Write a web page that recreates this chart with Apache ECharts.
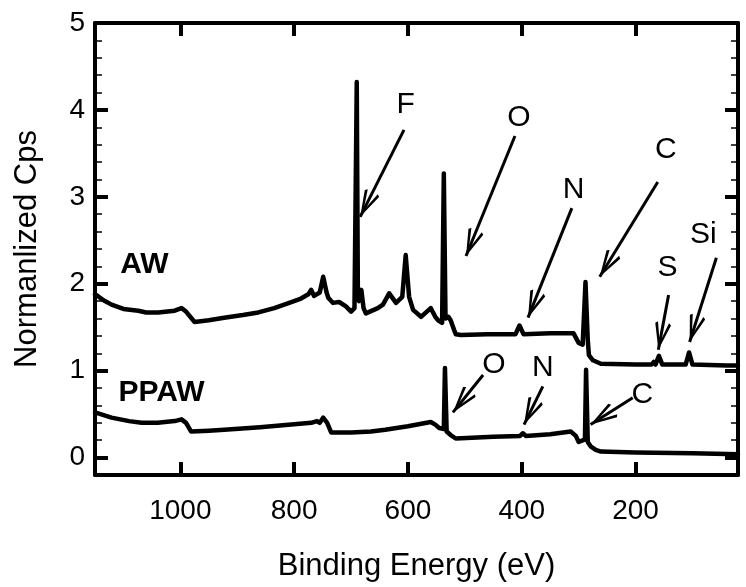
<!DOCTYPE html>
<html>
<head>
<meta charset="utf-8">
<script src="https://cdn.jsdelivr.net/npm/echarts@6/dist/echarts.min.js"></script>
<style>
html,body{margin:0;padding:0;background:#fff;}
#chart{width:746px;height:587px;}
</style>
</head>
<body>
<div id="chart"></div>
<script>
// ---- data ----
var xTicks = [200, 400, 600, 800, 1000];
var yTicks = [0, 1, 2, 3, 4, 5];
var yMinorTicks = [0.2,0.4,0.6,0.8,1.2,1.4,1.6,1.8,2.2,2.4,2.6,2.8,3.2,3.4,3.6,3.8,4.2,4.4,4.6,4.8];

var awX = [1150,1135,1121,1100,1074,1060,1039,1010,998,990,975,950,923,890,863,835,805,788,775,770,765,755,749,743,740,732,721,709,700,694,692,690,688,686,682,678,674,653,644,633,621,610,604,598,591,577,560,552,547,540,537,534,529,525,519,516,507,460,411,404,397,350,309,300,293,288,284,282,275,261,200,172,168,165,159,153,112,106,100,40,25,20];
var awY = [1.88,1.81,1.76,1.71,1.69,1.67,1.67,1.69,1.72,1.68,1.56,1.58,1.61,1.64,1.67,1.72,1.79,1.83,1.88,1.93,1.86,1.90,2.08,1.90,1.84,1.78,1.79,1.74,1.68,1.72,1.70,4.32,1.85,1.80,1.93,1.72,1.66,1.72,1.76,1.89,1.78,1.85,2.33,1.85,1.70,1.62,1.72,1.62,1.58,1.55,3.27,1.60,1.62,1.58,1.47,1.42,1.41,1.42,1.42,1.52,1.42,1.43,1.43,1.32,1.30,2.02,1.35,1.18,1.12,1.08,1.07,1.07,1.10,1.07,1.17,1.07,1.07,1.21,1.07,1.06,1.06,1.06];

var ppX = [1150,1121,1090,1068,1040,1010,998,990,981,950,923,860,805,770,760,755,749,742,735,700,665,640,600,560,552,545,537,535,532,525,516,450,403,398,393,350,314,305,300,289,287,284,279,270,261,200,100,20];
var ppY = [0.52,0.46,0.42,0.40,0.40,0.42,0.44,0.40,0.30,0.31,0.32,0.35,0.38,0.40,0.42,0.40,0.46,0.40,0.29,0.29,0.30,0.32,0.36,0.41,0.38,0.34,0.33,1.03,0.30,0.26,0.22,0.24,0.25,0.28,0.25,0.27,0.30,0.25,0.18,0.21,1.01,0.18,0.13,0.09,0.07,0.06,0.05,0.04];

// annotation labels: [x, y, text]
var elemLabels = [
  [604, 4.06, 'F'], [405, 3.91, 'O'], [309, 3.08, 'N'], [147, 3.54, 'C'],
  [144, 2.18, 'S'], [81, 2.56, 'Si'],
  [449, 1.07, 'O'], [363, 1.03, 'N'], [188, 0.72, 'C']
];
var sampleLabels = [[1063, 2.22, 'AW'], [1033, 0.75, 'PPAW']];
// arrows: [xFrom, yFrom, xTo, yTo]
var arrows = [
  [607, 3.77, 684, 2.77],
  [412, 3.70, 498, 2.32],
  [312, 2.87, 389, 1.61],
  [161, 3.17, 263, 2.08],
  [142, 1.87, 160, 1.24],
  [58, 2.30, 105, 1.33],
  [468, 0.95, 521, 0.52],
  [363, 0.82, 396, 0.38],
  [205, 0.69, 279, 0.38]
];

function pairs(xs, ys){ return xs.map(function(x,i){ return [x, ys[i]]; }); }

var FONT = "'Liberation Sans', Arial, sans-serif";
var chevron = 'path://M10,30 L20,58 L17,60 L10,38 L3,60 L0,58 Z M10,0';

var xBase = {type:'value', min:20, max:1150, inverse:true, splitLine:{show:false}};
var yBase = {type:'value', min:-0.2, max:5, splitLine:{show:false}};
function ln(w){ return {color:'#000', width:w}; }

var option = {
  animation:false,
  backgroundColor:'#fff',
  grid:{left:95, right:8, top:23, bottom:112},
  xAxis:[
    Object.assign({}, xBase, {
      position:'bottom',
      axisLine:{show:true, onZero:false, lineStyle:ln(4)},
      axisTick:{show:true, inside:true, length:13, customValues:xTicks, lineStyle:ln(4)},
      axisLabel:{show:true, customValues:xTicks, margin:22, fontSize:28, color:'#000', fontFamily:FONT,
        formatter:function(v){ return String(v); }},
      name:'Binding Energy (eV)', nameLocation:'middle', nameGap:76,
      nameTextStyle:{fontSize:31, color:'#000', fontFamily:FONT}
    }),
    Object.assign({}, xBase, {
      position:'top',
      axisLine:{show:true, onZero:false, lineStyle:ln(4)},
      axisTick:{show:true, inside:true, length:13, customValues:xTicks, lineStyle:ln(4)},
      axisLabel:{show:false}
    })
  ],
  yAxis:[
    Object.assign({}, yBase, {
      position:'left',
      axisLine:{show:true, onZero:false, lineStyle:ln(4)},
      axisTick:{show:true, inside:true, length:13, customValues:yTicks, lineStyle:ln(4)},
      axisLabel:{show:true, customValues:yTicks, margin:10, fontSize:28, color:'#000', fontFamily:FONT},
      name:'Normanlized Cps', nameLocation:'middle', nameGap:52,
      nameTextStyle:{fontSize:31, color:'#000', fontFamily:FONT}
    }),
    Object.assign({}, yBase, {
      position:'left',
      axisLine:{show:false},
      axisTick:{show:true, inside:true, length:7, customValues:yMinorTicks, lineStyle:ln(1.5)},
      axisLabel:{show:false}
    }),
    Object.assign({}, yBase, {
      position:'right',
      axisLine:{show:true, onZero:false, lineStyle:ln(4)},
      axisTick:{show:true, inside:true, length:13, customValues:yTicks, lineStyle:ln(4)},
      axisLabel:{show:false}
    }),
    Object.assign({}, yBase, {
      position:'right',
      axisLine:{show:false},
      axisTick:{show:true, inside:true, length:7, customValues:yMinorTicks, lineStyle:ln(1.5)},
      axisLabel:{show:false}
    })
  ],
  series:[
    {
      name:'AW', type:'line', data:pairs(awX, awY), showSymbol:false, symbol:'none',
      lineStyle:{color:'#000', width:4.5, join:'round', cap:'round'}, z:3
    },
    {
      name:'PPAW', type:'line', data:pairs(ppX, ppY), showSymbol:false, symbol:'none',
      lineStyle:{color:'#000', width:4.5, join:'round', cap:'round'}, z:3
    },
    {
      name:'elements', type:'scatter', symbolSize:0, z:4,
      itemStyle:{opacity:1, color:'#000'},
      data:elemLabels.map(function(d){ return {value:[d[0], d[1]], name:d[2]}; }),
      label:{show:true, position:'inside', formatter:'{b}', fontSize:30, color:'#000', fontFamily:FONT, opacity:1},
      markLine:{
        silent:true, symbol:['none', chevron], symbolSize:[16, 56],
        lineStyle:{color:'#000', width:3, type:'solid', opacity:1},
        label:{show:false},
        emphasis:{disabled:true},
        data:arrows.map(function(a){ return [{coord:[a[0], a[1]]}, {coord:[a[2], a[3]]}]; })
      }
    },
    {
      name:'samples', type:'scatter', symbolSize:0, z:4,
      itemStyle:{opacity:1, color:'#000'},
      data:sampleLabels.map(function(d){ return {value:[d[0], d[1]], name:d[2]}; }),
      label:{show:true, position:'inside', formatter:'{b}', fontSize:30, fontWeight:'bold', color:'#000', fontFamily:FONT, opacity:1}
    }
  ]
};
var chart = echarts.init(document.getElementById('chart'), null, {renderer:'canvas'});
chart.setOption(option);
</script>
</body>
</html>
